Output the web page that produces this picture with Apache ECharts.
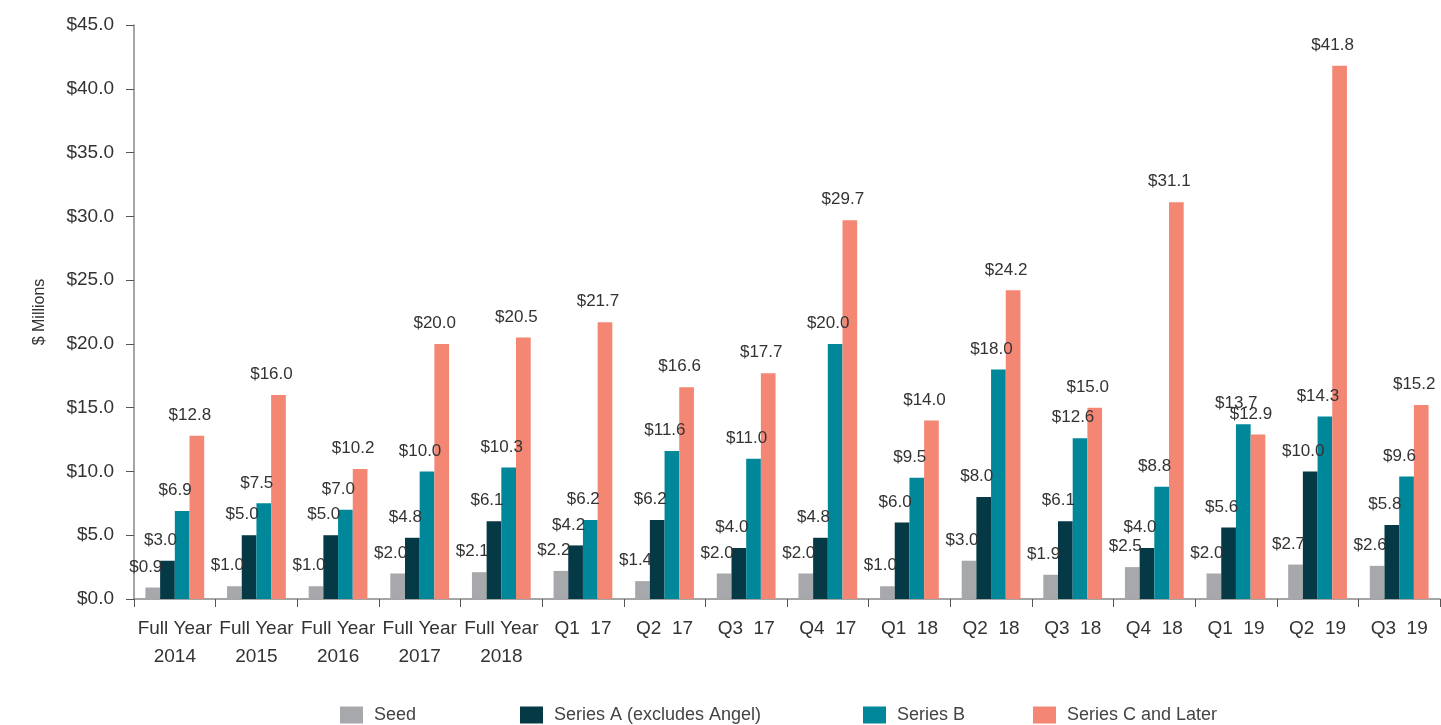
<!DOCTYPE html>
<html>
<head>
<meta charset="utf-8">
<script src="https://cdn.jsdelivr.net/npm/echarts@6/dist/echarts.min.js"></script>
<style>
  html, body { margin: 0; padding: 0; background: #fff; }
  #chart { width: 1441px; height: 725px; }
</style>
</head>
<body>
<div id="chart"></div>
<script>
// categories and values ($ millions)
const categories = ['Full Year\n2014', 'Full Year\n2015', 'Full Year\n2016', 'Full Year\n2017', 'Full Year\n2018',
  'Q1  17', 'Q2  17', 'Q3  17', 'Q4  17', 'Q1  18', 'Q2  18', 'Q3  18', 'Q4  18', 'Q1  19', 'Q2  19', 'Q3  19'];
const seed = [0.9, 1.0, 1.0, 2.0, 2.1, 2.2, 1.4, 2.0, 2.0, 1.0, 3.0, 1.9, 2.5, 2.0, 2.7, 2.6];
const seriesA = [3.0, 5.0, 5.0, 4.8, 6.1, 4.2, 6.2, 4.0, 4.8, 6.0, 8.0, 6.1, 4.0, 5.6, 10.0, 5.8];
const seriesB = [6.9, 7.5, 7.0, 10.0, 10.3, 6.2, 11.6, 11.0, 20.0, 9.5, 18.0, 12.6, 8.8, 13.7, 14.3, 9.6];
const seriesC = [12.8, 16.0, 10.2, 20.0, 20.5, 21.7, 16.6, 17.7, 29.7, 14.0, 24.2, 15.0, 31.1, 12.9, 41.8, 15.2];

const font = "'Liberation Sans', Arial, sans-serif";
const textColor = '#333';

const chart = echarts.init(document.getElementById('chart'));

function bar(name, data, color) {
  return {
    name: name,
    type: 'bar',
    data: data,
    barGap: '0%',
    barCategoryGap: '28%',
    itemStyle: { color: color },
    label: {
      show: true,
      position: 'top',
      distance: 12,
      offset: [-7, 0],
      formatter: p => '$' + p.value.toFixed(1),
      fontFamily: font,
      fontSize: 17,
      color: textColor
    }
  };
}

function legendAt(name, left) {
  return {
    data: [{ name: name, icon: 'rect' }],
    left: left,
    top: 701,
    itemWidth: 23,
    itemHeight: 17,
    itemGap: 0,
    textStyle: { fontFamily: font, fontSize: 18, color: '#444', padding: [0, 0, 0, 6] }
  };
}

chart.setOption({
  animation: false,
  grid: { left: 134, right: 1, top: 25, bottom: 126 },
  legend: [
    legendAt('Seed', 335),
    legendAt('Series A (excludes Angel)', 515),
    legendAt('Series B', 858),
    legendAt('Series C and Later', 1028)
  ],
  xAxis: {
    type: 'category',
    data: categories,
    axisLine: { lineStyle: { color: '#888', width: 1.5 } },
    axisTick: { show: true, length: 8, lineStyle: { color: '#555' } },
    axisLabel: {
      interval: 0,
      margin: 16,
      fontFamily: font,
      fontSize: 19,
      lineHeight: 28,
      color: textColor
    }
  },
  yAxis: {
    type: 'value',
    min: 0,
    max: 45,
    interval: 5,
    name: '$ Millions',
    nameLocation: 'middle',
    nameGap: 86,
    nameTextStyle: { fontFamily: font, fontSize: 16, color: textColor },
    axisLine: { show: true, lineStyle: { color: '#888', width: 1.5 } },
    axisTick: { show: true, length: 8, lineStyle: { color: '#555' } },
    splitLine: { show: false },
    axisLabel: {
      margin: 20,
      formatter: v => '$' + v.toFixed(1),
      fontFamily: font,
      fontSize: 19,
      color: textColor
    }
  },
  series: [
    bar('Seed', seed, '#a7a8ab'),
    bar('Series A (excludes Angel)', seriesA, '#053945'),
    bar('Series B', seriesB, '#01879a'),
    bar('Series C and Later', seriesC, '#f48674')
  ]
});
</script>
</body>
</html>
